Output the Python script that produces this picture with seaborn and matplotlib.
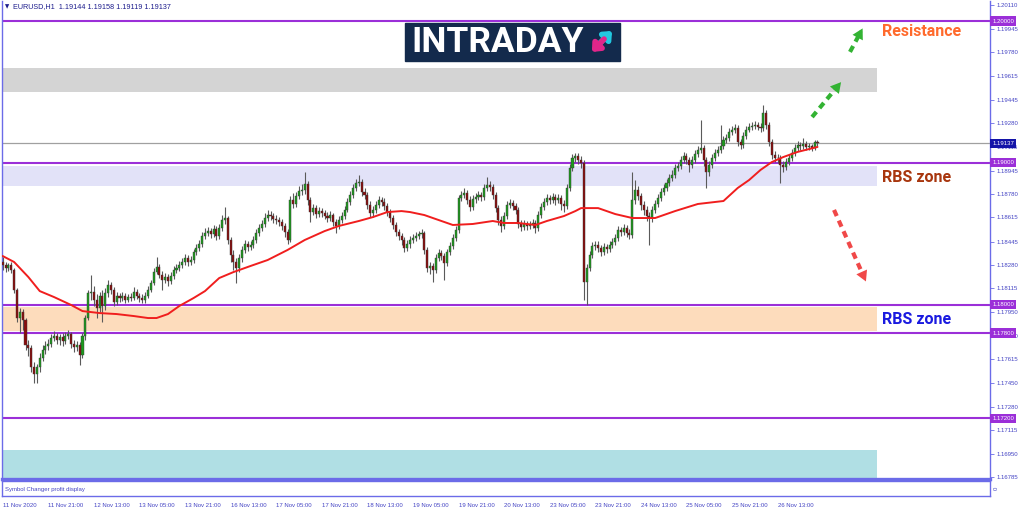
import matplotlib
matplotlib.use("Agg")
import matplotlib.pyplot as plt
from matplotlib.patches import Rectangle
import numpy as np
import pandas as pd
import seaborn as sns

# EURUSD H1 candles, 11 Nov 2020 05:00 .. 27 Nov 2020 03:00
first_open = 1.18301
closes = [
    1.18280, 1.18258, 1.18280, 1.18245, 1.18104, 1.17906, 1.17948, 1.17892, 1.17716, 1.17694,
    1.17561, 1.17511, 1.17561, 1.17624, 1.17681, 1.17709, 1.17723, 1.17765, 1.17779, 1.17751,
    1.17772, 1.17744, 1.17779, 1.17793, 1.17723, 1.17701, 1.17716, 1.17645, 1.17779, 1.17906,
    1.18082, 1.18089, 1.18033, 1.17976, 1.18061, 1.17991, 1.18082, 1.18139, 1.18104, 1.18019,
    1.18061, 1.18047, 1.18061, 1.18033, 1.18054, 1.18047, 1.18089, 1.18061, 1.18047, 1.18033,
    1.18061, 1.18104, 1.18153, 1.18230, 1.18265, 1.18209, 1.18174, 1.18195, 1.18167, 1.18202,
    1.18245, 1.18258, 1.18280, 1.18301, 1.18329, 1.18301, 1.18315, 1.18371, 1.18399, 1.18428,
    1.18484, 1.18505, 1.18519, 1.18498, 1.18533, 1.18484, 1.18540, 1.18597, 1.18611, 1.18456,
    1.18350, 1.18301, 1.18258, 1.18329, 1.18386, 1.18428, 1.18406, 1.18421, 1.18456, 1.18505,
    1.18540, 1.18569, 1.18611, 1.18632, 1.18625, 1.18604, 1.18597, 1.18583, 1.18555, 1.18512,
    1.18456, 1.18738, 1.18710, 1.18766, 1.18801, 1.18809, 1.18851, 1.18738, 1.18653, 1.18681,
    1.18639, 1.18660, 1.18646, 1.18625, 1.18611, 1.18632, 1.18583, 1.18555, 1.18597, 1.18625,
    1.18668, 1.18724, 1.18773, 1.18823, 1.18858, 1.18865, 1.18794, 1.18773, 1.18703, 1.18646,
    1.18668, 1.18703, 1.18738, 1.18724, 1.18696, 1.18653, 1.18611, 1.18562, 1.18512, 1.18484,
    1.18456, 1.18399, 1.18428, 1.18456, 1.18470, 1.18484, 1.18498, 1.18505, 1.18386, 1.18258,
    1.18273, 1.18245, 1.18329, 1.18364, 1.18343, 1.18294, 1.18371, 1.18414, 1.18470, 1.18527,
    1.18752, 1.18773, 1.18787, 1.18738, 1.18689, 1.18745, 1.18759, 1.18773, 1.18759, 1.18823,
    1.18844, 1.18830, 1.18773, 1.18681, 1.18597, 1.18555, 1.18625, 1.18703, 1.18717, 1.18696,
    1.18668, 1.18569, 1.18548, 1.18569, 1.18555, 1.18562, 1.18576, 1.18540, 1.18632, 1.18689,
    1.18724, 1.18752, 1.18738, 1.18759, 1.18738, 1.18752, 1.18710, 1.18696, 1.18823, 1.18964,
    1.19034, 1.19048, 1.19020, 1.18999, 1.18160, 1.18258, 1.18350, 1.18414, 1.18421, 1.18399,
    1.18371, 1.18406, 1.18392, 1.18421, 1.18442, 1.18470, 1.18527, 1.18512, 1.18540, 1.18505,
    1.18491, 1.18738, 1.18809, 1.18766, 1.18703, 1.18668, 1.18625, 1.18611, 1.18668, 1.18710,
    1.18752, 1.18794, 1.18823, 1.18858, 1.18893, 1.18914, 1.18964, 1.18978, 1.19020, 1.19048,
    1.19020, 1.18985, 1.19020, 1.19062, 1.19091, 1.19105, 1.19020, 1.18935, 1.18985, 1.19034,
    1.19070, 1.19091, 1.19119, 1.19161, 1.19175, 1.19217, 1.19232, 1.19246, 1.19147, 1.19126,
    1.19189, 1.19232, 1.19253, 1.19260, 1.19267, 1.19253, 1.19246, 1.19351, 1.19267, 1.19147,
    1.19055, 1.19034, 1.19034, 1.18985, 1.18971, 1.19006, 1.19034, 1.19070, 1.19105, 1.19126,
    1.19119, 1.19133, 1.19112, 1.19119, 1.19105, 1.19144, 1.19137,
]
highs = [
    1.18336, 1.18301, 1.18294, 1.18301, 1.18258, 1.18117, 1.17976, 1.17969, 1.17906, 1.17751,
    1.17716, 1.17596, 1.17582, 1.17659, 1.17716, 1.17744, 1.17758, 1.17793, 1.17814, 1.17800,
    1.17793, 1.17800, 1.17807, 1.17822, 1.17807, 1.17751, 1.17744, 1.17737, 1.17800, 1.17927,
    1.18104, 1.18209, 1.18132, 1.18075, 1.18089, 1.18104, 1.18117, 1.18174, 1.18160, 1.18124,
    1.18089, 1.18082, 1.18089, 1.18082, 1.18075, 1.18082, 1.18124, 1.18110, 1.18082, 1.18075,
    1.18089, 1.18132, 1.18174, 1.18258, 1.18336, 1.18287, 1.18237, 1.18223, 1.18216, 1.18230,
    1.18273, 1.18287, 1.18308, 1.18329, 1.18357, 1.18350, 1.18343, 1.18392, 1.18428, 1.18456,
    1.18512, 1.18540, 1.18548, 1.18540, 1.18562, 1.18555, 1.18569, 1.18632, 1.18689, 1.18625,
    1.18477, 1.18386, 1.18329, 1.18357, 1.18414, 1.18456, 1.18449, 1.18449, 1.18484, 1.18533,
    1.18569, 1.18597, 1.18646, 1.18668, 1.18660, 1.18646, 1.18632, 1.18618, 1.18604, 1.18576,
    1.18533, 1.18766, 1.18787, 1.18794, 1.18837, 1.18851, 1.18935, 1.18872, 1.18759, 1.18710,
    1.18703, 1.18689, 1.18681, 1.18668, 1.18653, 1.18660, 1.18646, 1.18604, 1.18625, 1.18653,
    1.18696, 1.18752, 1.18801, 1.18851, 1.18886, 1.18914, 1.18886, 1.18823, 1.18794, 1.18731,
    1.18696, 1.18731, 1.18766, 1.18759, 1.18752, 1.18717, 1.18674, 1.18632, 1.18583, 1.18533,
    1.18505, 1.18477, 1.18456, 1.18484, 1.18498, 1.18512, 1.18519, 1.18533, 1.18519, 1.18406,
    1.18301, 1.18294, 1.18357, 1.18392, 1.18386, 1.18364, 1.18392, 1.18442, 1.18498, 1.18555,
    1.18773, 1.18801, 1.18823, 1.18809, 1.18766, 1.18773, 1.18787, 1.18801, 1.18794, 1.18851,
    1.18900, 1.18872, 1.18851, 1.18794, 1.18703, 1.18625, 1.18653, 1.18731, 1.18745, 1.18738,
    1.18717, 1.18689, 1.18597, 1.18597, 1.18590, 1.18590, 1.18604, 1.18597, 1.18660, 1.18717,
    1.18752, 1.18780, 1.18773, 1.18787, 1.18780, 1.18780, 1.18773, 1.18738, 1.18851, 1.18992,
    1.19062, 1.19070, 1.19070, 1.19048, 1.19020, 1.18287, 1.18378, 1.18442, 1.18449, 1.18449,
    1.18421, 1.18435, 1.18428, 1.18449, 1.18470, 1.18498, 1.18555, 1.18548, 1.18569, 1.18562,
    1.18533, 1.18935, 1.18879, 1.18837, 1.18787, 1.18731, 1.18696, 1.18653, 1.18696, 1.18738,
    1.18780, 1.18823, 1.18851, 1.18886, 1.18921, 1.18950, 1.18992, 1.19006, 1.19048, 1.19077,
    1.19070, 1.19041, 1.19048, 1.19091, 1.19119, 1.19302, 1.19126, 1.19041, 1.19013, 1.19062,
    1.19097, 1.19119, 1.19267, 1.19189, 1.19203, 1.19246, 1.19260, 1.19274, 1.19267, 1.19168,
    1.19217, 1.19260, 1.19281, 1.19288, 1.19295, 1.19288, 1.19281, 1.19408, 1.19373, 1.19288,
    1.19168, 1.19084, 1.19062, 1.19055, 1.19013, 1.19034, 1.19062, 1.19097, 1.19133, 1.19154,
    1.19147, 1.19175, 1.19154, 1.19140, 1.19133, 1.19161, 1.19158,
]
lows = [
    1.18245, 1.18230, 1.18237, 1.18223, 1.18082, 1.17878, 1.17800, 1.17822, 1.17681, 1.17638,
    1.17525, 1.17448, 1.17448, 1.17525, 1.17603, 1.17652, 1.17681, 1.17701, 1.17744, 1.17723,
    1.17716, 1.17709, 1.17723, 1.17758, 1.17694, 1.17666, 1.17673, 1.17575, 1.17624, 1.17751,
    1.17892, 1.18033, 1.17991, 1.17906, 1.17948, 1.17878, 1.17963, 1.18054, 1.18075, 1.17991,
    1.17998, 1.18019, 1.18026, 1.18012, 1.18019, 1.18026, 1.18033, 1.18040, 1.18019, 1.18012,
    1.18012, 1.18047, 1.18089, 1.18139, 1.18216, 1.18188, 1.18104, 1.18153, 1.18132, 1.18146,
    1.18181, 1.18223, 1.18237, 1.18258, 1.18280, 1.18273, 1.18280, 1.18294, 1.18350, 1.18378,
    1.18406, 1.18463, 1.18484, 1.18470, 1.18477, 1.18456, 1.18463, 1.18519, 1.18569, 1.18428,
    1.18301, 1.18245, 1.18153, 1.18230, 1.18301, 1.18364, 1.18378, 1.18386, 1.18399, 1.18435,
    1.18484, 1.18519, 1.18548, 1.18590, 1.18597, 1.18576, 1.18569, 1.18555, 1.18527, 1.18477,
    1.18428, 1.18442, 1.18681, 1.18689, 1.18745, 1.18773, 1.18780, 1.18703, 1.18583, 1.18632,
    1.18611, 1.18618, 1.18618, 1.18604, 1.18583, 1.18590, 1.18555, 1.18505, 1.18533, 1.18576,
    1.18604, 1.18653, 1.18703, 1.18752, 1.18801, 1.18837, 1.18766, 1.18745, 1.18674, 1.18618,
    1.18618, 1.18646, 1.18681, 1.18696, 1.18668, 1.18625, 1.18583, 1.18533, 1.18484, 1.18456,
    1.18421, 1.18371, 1.18378, 1.18399, 1.18435, 1.18449, 1.18463, 1.18470, 1.18357, 1.18230,
    1.18216, 1.18160, 1.18223, 1.18308, 1.18315, 1.18174, 1.18273, 1.18350, 1.18392, 1.18449,
    1.18505, 1.18731, 1.18752, 1.18710, 1.18660, 1.18668, 1.18717, 1.18738, 1.18731, 1.18738,
    1.18801, 1.18801, 1.18745, 1.18653, 1.18562, 1.18512, 1.18533, 1.18604, 1.18681, 1.18668,
    1.18639, 1.18540, 1.18519, 1.18527, 1.18527, 1.18533, 1.18540, 1.18505, 1.18519, 1.18611,
    1.18668, 1.18703, 1.18710, 1.18717, 1.18703, 1.18717, 1.18668, 1.18653, 1.18674, 1.18801,
    1.18942, 1.19006, 1.18992, 1.18964, 1.18033, 1.17998, 1.18237, 1.18329, 1.18386, 1.18371,
    1.18343, 1.18350, 1.18364, 1.18371, 1.18399, 1.18421, 1.18449, 1.18484, 1.18491, 1.18477,
    1.18463, 1.18470, 1.18710, 1.18738, 1.18668, 1.18632, 1.18590, 1.18421, 1.18583, 1.18646,
    1.18689, 1.18731, 1.18773, 1.18801, 1.18837, 1.18872, 1.18893, 1.18942, 1.18956, 1.18999,
    1.18992, 1.18935, 1.18964, 1.18999, 1.19041, 1.19070, 1.18978, 1.18823, 1.18907, 1.18964,
    1.19013, 1.19048, 1.19070, 1.19097, 1.19140, 1.19154, 1.19196, 1.19210, 1.19119, 1.19097,
    1.19105, 1.19168, 1.19217, 1.19232, 1.19239, 1.19232, 1.19217, 1.19224, 1.19239, 1.19119,
    1.19027, 1.19006, 1.18999, 1.18858, 1.18935, 1.18950, 1.18985, 1.19013, 1.19048, 1.19084,
    1.19091, 1.19097, 1.19091, 1.19091, 1.19084, 1.19091, 1.19119,
]

# red moving average, read at sample bars
ma_bar = [0, 4, 9, 13, 18, 24, 28, 34, 40, 46, 51, 54, 58, 62, 67, 71, 76, 81, 87, 93,
          100, 106, 113, 118, 125, 130, 135, 140, 143, 148, 153, 158, 165, 172, 176, 181,
          187, 191, 197, 201, 203, 209, 215, 221, 229, 236, 244, 253, 258, 262, 266, 270,
          274, 279, 286]
ma_price = [1.18343, 1.18301, 1.18195, 1.18096, 1.18054, 1.17998, 1.17955, 1.17941, 1.17934,
            1.17920, 1.17906, 1.17906, 1.17934, 1.17991, 1.18047, 1.18096, 1.18188, 1.18230,
            1.18273, 1.18315, 1.18386, 1.18456, 1.18519, 1.18555, 1.18590, 1.18618, 1.18653,
            1.18660, 1.18653, 1.18632, 1.18597, 1.18562, 1.18569, 1.18590, 1.18576, 1.18576,
            1.18562, 1.18590, 1.18625, 1.18660, 1.18681, 1.18681, 1.18639, 1.18611, 1.18611,
            1.18660, 1.18710, 1.18731, 1.18823, 1.18879, 1.18950, 1.19006, 1.19041, 1.19077,
            1.19112]

levels = [1.20000, 1.19000, 1.18000, 1.17800, 1.17200]
last_price = 1.19137
zone_low = [1.19500, 1.18837, 1.17813, 1.16776]
zone_high = [1.19669, 1.18978, 1.17983, 1.16976]
price_ticks = [1.20110, 1.19945, 1.19780, 1.19615, 1.19445, 1.19280, 1.19115, 1.18945,
               1.18780, 1.18615, 1.18445, 1.18280, 1.18115, 1.17950, 1.17780, 1.17615,
               1.17450, 1.17280, 1.17115, 1.16950, 1.16785]
time_labels = ["11 Nov 2020", "11 Nov 21:00", "12 Nov 13:00", "13 Nov 05:00", "13 Nov 21:00",
               "16 Nov 13:00", "17 Nov 05:00", "17 Nov 21:00", "18 Nov 13:00", "19 Nov 05:00",
               "19 Nov 21:00", "20 Nov 13:00", "23 Nov 05:00", "23 Nov 21:00", "24 Nov 13:00",
               "25 Nov 05:00", "25 Nov 21:00", "26 Nov 13:00"]
time_bars = list(range(0, 16 * len(time_labels), 16))

assert len(closes) == len(highs) == len(lows) == 287

sns.set_style("white")
plt.rcParams["font.family"] = ["Liberation Sans", "DejaVu Sans"]

df = pd.DataFrame({"close": closes, "high": highs, "low": lows})
df["bar"] = np.arange(len(df))
df["open"] = [first_open] + closes[:-1]
df["high"] = df[["high", "open", "close"]].max(axis=1)
df["low"] = df[["low", "open", "close"]].min(axis=1)
up = df["close"] >= df["open"]

W, H = 1024, 511
fig = plt.figure(figsize=(W / 100, H / 100), dpi=100)
ax = fig.add_axes([2 / W, 1 - 479 / H, 988 / W, 478 / H])
ax2 = fig.add_axes([2 / W, 1 - 496 / H, 988 / W, 15 / H])

xmin, xmax = -0.25, 346.55
zone_end = 306.9
frame = "#6b6be8"
violet = "#9b2fd8"
txt_blue = "#4444c4"

# zones
for lo, hi, c in zip(zone_low, zone_high, ["#d4d4d4", "#e2e2f8", "#fddcbc", "#b0dfe4"]):
    ax.fill_between([xmin, zone_end], lo, hi, color=c, lw=0, zorder=0)

for lv in levels:
    ax.axhline(lv, color=violet, lw=1.5, zorder=2)
ax.axhline(last_price, color="#a0a0a0", lw=0.9, zorder=1)

# candles
ax.vlines(df["bar"], df["low"], df["high"], color="#5a5a5a", lw=0.8, zorder=3)
ax.bar(df["bar"][up], (df["close"] - df["open"])[up], bottom=df["open"][up], width=0.72,
       color="#1d9a1d", edgecolor="#3a3a3a", lw=0.3, zorder=4)
ax.bar(df["bar"][~up], (df["close"] - df["open"])[~up], bottom=df["open"][~up], width=0.72,
       color="#8a0c0c", edgecolor="#3a3a3a", lw=0.3, zorder=4)

sns.lineplot(x=ma_bar, y=ma_price, ax=ax, color="#f01e1e", lw=1.4, zorder=5)

# dashed direction arrows
arrows = [((284.1, 1.19323), (294.9, 1.19584), "#33b333"),
          ((297.4, 1.19782), (302.3, 1.19965), "#33b333"),
          ((291.8, 1.18668), (303.4, 1.18146), "#f04848")]
for (x0, y0), (x1, y1), c in arrows:
    xm, ym = x0 + 0.8 * (x1 - x0), y0 + 0.8 * (y1 - y0)
    ax.plot([x0, xm], [y0, ym], color=c, lw=3, ls=(0, (1.6, 1.2)), zorder=6, solid_capstyle="butt")
    ax.annotate("", xy=(x1, y1), xytext=(x0 + 0.7 * (x1 - x0), y0 + 0.7 * (y1 - y0)),
                arrowprops=dict(arrowstyle="-|>,head_length=0.75,head_width=0.42", color=c, lw=0),
                zorder=6)

ax.set_xlim(xmin, xmax)
ax.set_ylim(1.167712, 1.20141)
ax.set_xticks([])
ax.yaxis.tick_right()
ax.set_yticks(price_ticks)
ax.set_yticklabels([f"{t:.5f}" for t in price_ticks])
ax.tick_params(axis="y", right=True, length=3, width=0.6, color=frame, labelsize=4.3,
               labelcolor=txt_blue, pad=2)
ax.set_xlabel("")
ax.set_ylabel("")
for s in ["left", "right"]:
    ax.spines[s].set_color(frame)
    ax.spines[s].set_linewidth(1)
ax.spines["top"].set_visible(False)
ax.spines["bottom"].set_color(frame)
ax.spines["bottom"].set_linewidth(2.4)

# price tags on the right axis
yt = ax.get_yaxis_transform()
for lv in levels:
    ax.text(1.0025, lv, f"{lv:.5f}", transform=yt, ha="left", va="center", fontsize=4.3,
            color="white", zorder=20, clip_on=False,
            bbox=dict(boxstyle="square,pad=0.35", fc=violet, ec="none"))
ax.text(1.0025, last_price, f"{last_price:.5f}", transform=yt, ha="left", va="center",
        fontsize=4.3, color="white", zorder=20, clip_on=False,
        bbox=dict(boxstyle="square,pad=0.35", fc="#1414a8", ec="none"))

# sub window
ax2.set_xlim(xmin, xmax)
ax2.set_yticks([])
ax2.set_xticks(time_bars)
ax2.set_xticklabels(time_labels, ha="left")
ax2.tick_params(axis="x", length=3, width=0.6, color=frame, labelsize=4.3,
                labelcolor=txt_blue, pad=2)
for s in ax2.spines.values():
    s.set_color(frame)
    s.set_linewidth(1)
ax2.text(0.003, 0.45, "Symbol Changer profit display", transform=ax2.transAxes,
         fontsize=4.3, color=txt_blue, va="center")
ax2.text(1.004, 0.5, "0", transform=ax2.transAxes, fontsize=4.3, color=txt_blue,
         va="center", rotation=90)

# header
fig.text(5 / W, 1 - 7 / H, "\u25bc", fontsize=4, color="#1c1c8c", va="center",
         family=["DejaVu Sans"])
fig.text(13 / W, 1 - 7 / H, "EURUSD,H1  1.19144 1.19158 1.19119 1.19137", fontsize=5.2,
         color="#1c1c8c", va="center")

# logo
fig.patches.append(Rectangle((405 / W, 1 - 61 / H), 215 / W, 38 / H, transform=fig.transFigure,
                             color="#132a4c", zorder=10))
fig.text(411 / W, 1 - 42 / H, "INTRADAY", fontsize=25.5, color="white", weight="bold",
         family=["Roboto", "DejaVu Sans"], va="center", ha="left", zorder=11)
fig.add_artist(matplotlib.patches.FancyArrowPatch((596 / W, 1 - 47 / H), (614 / W, 1 - 29 / H),
               transform=fig.transFigure, arrowstyle="-|>,head_length=4,head_width=3.5",
               color="#22c8e0", lw=4, zorder=12))
fig.add_artist(matplotlib.patches.FancyArrowPatch((606 / W, 1 - 37 / H), (590 / W, 1 - 54 / H),
               transform=fig.transFigure, arrowstyle="-|>,head_length=4,head_width=3.5",
               color="#e0268a", lw=4, zorder=12))

# zone captions
fig.text(882 / W, 1 - 32 / H, "Resistance", fontsize=11.5, color="#ff6a2c", weight="bold",
         family=["Roboto", "DejaVu Sans"], va="center")
fig.text(882 / W, 1 - 177 / H, "RBS zone", fontsize=11.5, color="#a8360e", weight="bold",
         family=["Roboto", "DejaVu Sans"], va="center")
fig.text(882 / W, 1 - 320 / H, "RBS zone", fontsize=11.5, color="#1a1ae0", weight="bold",
         family=["Roboto", "DejaVu Sans"], va="center")

fig.savefig("out.png", dpi=100)
